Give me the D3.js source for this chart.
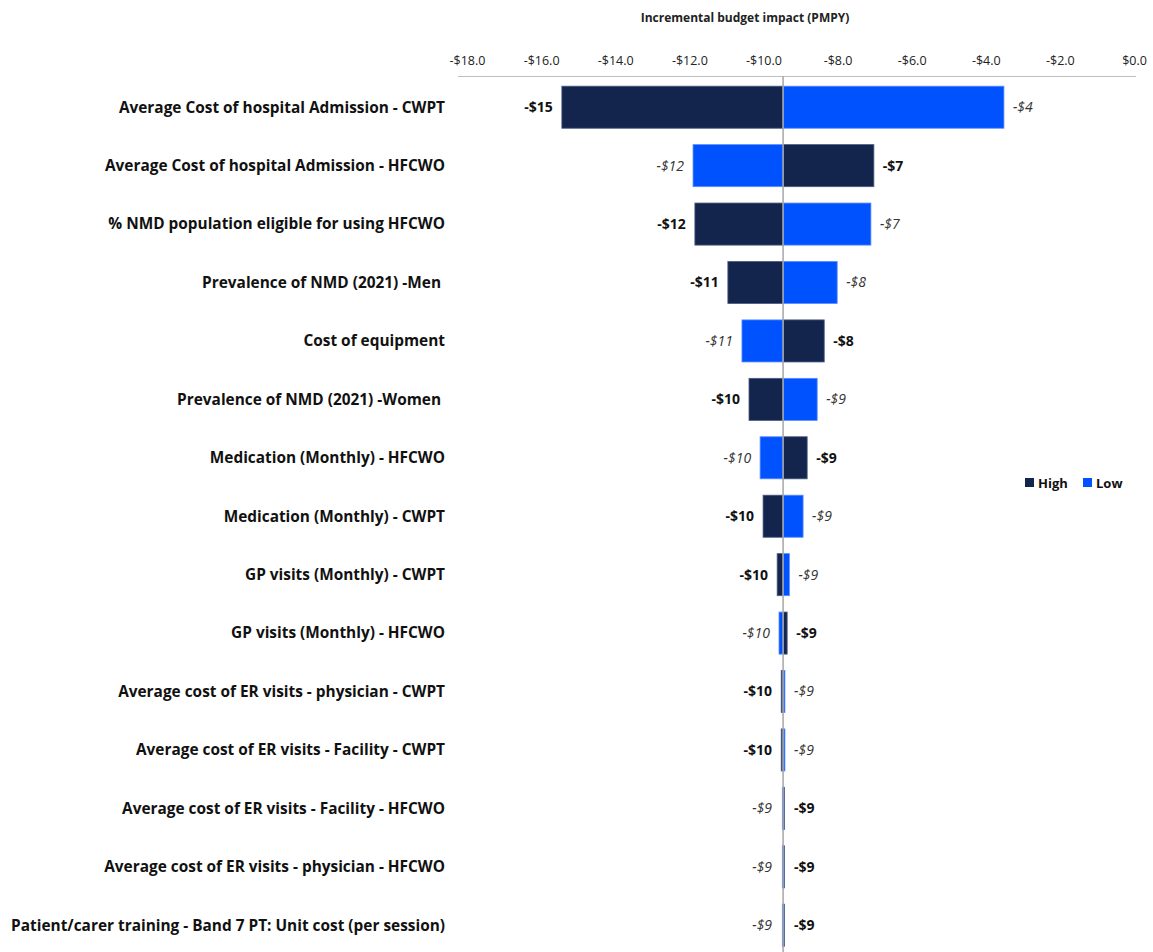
<!DOCTYPE html>
<html>
<head>
<meta charset="utf-8">
<script src="https://cdn.jsdelivr.net/npm/d3@7"></script>
<style>
  body { margin: 0; background: #fff; }
  svg { font-family: "Open Sans", sans-serif; }
</style>
</head>
<body>
<div class="tornado"></div>
<script>
// Tornado chart data
const factors = [
    'Average Cost of hospital Admission - CWPT',
    'Average Cost of hospital Admission - HFCWO',
    '% NMD population eligible for using HFCWO',
    'Prevalence of NMD (2021) -Men ',
    'Cost of equipment',
    'Prevalence of NMD (2021) -Women ',
    'Medication (Monthly) - HFCWO',
    'Medication (Monthly) - CWPT',
    'GP visits (Monthly) - CWPT',
    'GP visits (Monthly) - HFCWO',
    'Average cost of ER visits - physician - CWPT',
    'Average cost of ER visits - Facility - CWPT',
    'Average cost of ER visits - Facility - HFCWO',
    'Average cost of ER visits - physician - HFCWO',
    'Patient/carer training - Band 7 PT: Unit cost (per session)'
]
const highValues = [-15.44, -7.02, -11.85, -10.96, -8.36, -10.39, -8.82, -10.01, -9.63, -9.36, -9.52, -9.52, -9.44, -9.44, -9.44]
const lowValues = [-3.51, -11.9, -7.1, -8.01, -10.58, -8.55, -10.09, -8.93, -9.30, -9.58, -9.42, -9.42, -9.49, -9.49, -9.49]
const baseValue = -9.47
const ticks = [-18, -16, -14, -12, -10, -8, -6, -4, -2, 0]
const seriesNames = ['High', 'Low']

const width = 1153
const height = 952
const colors = {High: '#14254d', Low: '#0052ff'}
const strokes = {High: '#4a5a80', Low: '#5c8dff'}

let svg = d3.select('.tornado')
    .append('svg')
    .attr('width', width)
    .attr('height', height)

let x = d3.scaleLinear()
    .domain([-18, 0])
    .range([467, 1134])

let y = d3.scaleBand()
    .domain(factors)
    .range([78, 78 + 15 * 58.43])
    .paddingInner(0.28)
    .paddingOuter(0.14)

// title
svg.append('text')
    .attr('x', 745)
    .attr('y', 22)
    .attr('text-anchor', 'middle')
    .attr('font-size', 12)
    .attr('font-weight', 'bold')
    .attr('fill', '#222')
    .text('Incremental budget impact (PMPY)')

// top axis
let axis = svg.append('g')
    .attr('transform', 'translate(0,76)')
    .call(d3.axisTop(x)
        .tickValues(ticks)
        .tickSize(0)
        .tickPadding(11)
        .tickFormat(d => (d < 0 ? '-' : '') + '$' + Math.abs(d).toFixed(1)))
axis.select('.domain').remove()
axis.selectAll('text')
    .attr('font-size', 12.5)
    .attr('font-family', '"Open Sans", sans-serif')
    .attr('fill', '#222')

svg.append('line')
    .attr('x1', 458).attr('x2', 1136)
    .attr('y1', 76.5).attr('y2', 76.5)
    .attr('stroke', '#bfbfbf')

// rows
let rows = factors.map((f, i) => ({factor: f, High: highValues[i], Low: lowValues[i]}))

seriesNames.forEach(s => {
    svg.selectAll('.bar-' + s)
        .data(rows)
        .enter()
        .append('rect')
        .attr('class', 'bar-' + s)
        .attr('x', d => Math.min(x(d[s]), x(baseValue)))
        .attr('y', d => y(d.factor))
        .attr('width', d => Math.max(Math.abs(x(d[s]) - x(baseValue)), 1.5))
        .attr('height', y.bandwidth())
        .attr('fill', colors[s])
        .attr('stroke', strokes[s])
        .attr('stroke-width', 0.8)

    svg.selectAll('.label-' + s)
        .data(rows)
        .enter()
        .append('text')
        .attr('class', 'label-' + s)
        .attr('x', d => d[s] < baseValue ? Math.min(x(d[s]), x(baseValue) - 2) - 9 : Math.max(x(d[s]), x(baseValue) + 2) + 9)
        .attr('y', d => y(d.factor) + y.bandwidth() / 2)
        .attr('dy', '0.35em')
        .attr('text-anchor', d => d[s] < baseValue ? 'end' : 'start')
        .attr('font-size', 14)
        .attr('font-weight', s == 'High' ? 'bold' : 'normal')
        .attr('font-style', s == 'High' ? 'normal' : 'italic')
        .attr('fill', s == 'High' ? '#111' : '#333')
        .text(d => '-$' + Math.round(Math.abs(d[s])))
})

// baseline
svg.append('line')
    .attr('x1', x(baseValue)).attr('x2', x(baseValue))
    .attr('y1', 76).attr('y2', height)
    .attr('stroke', '#a6a6a6')
    .attr('stroke-width', 1.5)

// category labels
svg.selectAll('.cat')
    .data(factors)
    .enter()
    .append('text')
    .attr('class', 'cat')
    .attr('x', 445)
    .attr('y', d => y(d) + y.bandwidth() / 2)
    .attr('dy', '0.35em')
    .attr('text-anchor', 'end')
    .attr('font-size', 15.4)
    .attr('font-weight', 'bold')
    .attr('fill', '#111')
    .attr('xml:space', 'preserve')
    .text(d => d)

// legend
let legend = svg.append('g').attr('transform', 'translate(1025,483)')
seriesNames.forEach((s, i) => {
    let g = legend.append('g').attr('transform', 'translate(' + (i * 58) + ',0)')
    g.append('rect')
        .attr('x', 0).attr('y', -5)
        .attr('width', 9).attr('height', 9)
        .attr('fill', colors[s])
    g.append('text')
        .attr('x', 13).attr('y', 0)
        .attr('dy', '0.35em')
        .attr('font-size', 13)
        .attr('font-weight', 'bold')
        .attr('fill', '#111')
        .text(s)
})
</script>
</body>
</html>
